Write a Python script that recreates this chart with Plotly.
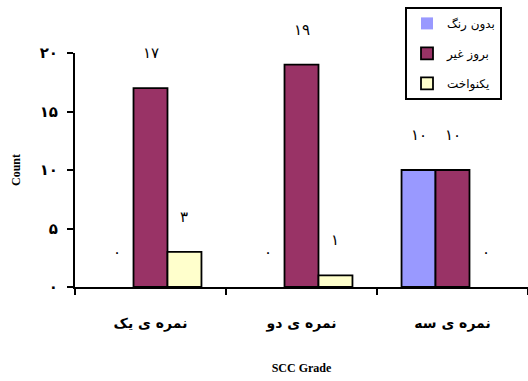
import plotly.graph_objects as go

# Grade categories and the three series
categories = ["نمره ی یک", "نمره ی دو", "نمره ی سه"]
series_names = ["بدون رنگ", "بروز غیر", "یکنواخت"]
values = [
    [0, 0, 10],    # بدون رنگ
    [17, 19, 10],  # بروز غیر
    [3, 1, 0],     # یکنواخت
]
colors = ["#9999FF", "#993366", "#FFFFCC"]

y_ticks = [0, 5, 10, 15, 20]

PERSIAN_DIGITS = str.maketrans("0123456789", "۰۱۲۳۴۵۶۷۸۹")


def fa(n):
    return str(n).translate(PERSIAN_DIGITS)


W, H = 528, 381
margin = dict(l=75, r=0, t=53, b=94)
bargap = 0.325

fig = go.Figure()
for i, (name, vals, col) in enumerate(zip(series_names, values, colors)):
    fig.add_trace(go.Bar(
        x=categories, y=vals, name=name, legendgroup=name,
        marker=dict(color=col,
                    line=dict(color="black", width=[1.8 if v else 0 for v in vals])),
    ))

# value labels above each bar
plot_w = W - margin["l"] - margin["r"]
bar_px = plot_w / len(categories) * (1 - bargap) / len(series_names)
annotations = []
for i, vals in enumerate(values):
    for c, v in zip(categories, vals):
        annotations.append(dict(
            x=c, y=v, xref="x", yref="y", text=fa(v), showarrow=False,
            xshift=(i - (len(series_names) - 1) / 2) * bar_px,
            yshift=35, yanchor="middle",
            font=dict(family="DejaVu Sans", size=15, color="black"),
        ))

fig.update_layout(
    width=W, height=H, margin=margin,
    paper_bgcolor="white", plot_bgcolor="white",
    barmode="group", bargap=bargap, bargroupgap=0,
    showlegend=True,
    legend=dict(
        x=(405 - margin["l"]) / plot_w, y=1.197, xanchor="left", yanchor="top",
        bordercolor="black", borderwidth=2, bgcolor="white",
        font=dict(family="DejaVu Sans", size=12, color="black"),
        tracegroupgap=11, entrywidth=82,
    ),
    annotations=annotations,
    xaxis=dict(
        showline=True, linecolor="black", linewidth=2,
        ticks="outside", tickson="boundaries", ticklen=6, tickcolor="black", tickwidth=2,
        ticklabelstandoff=22,
        tickfont=dict(family="DejaVu Sans", size=14, color="black", weight="bold"),
        title=dict(text="SCC Grade", standoff=33,
                   font=dict(family="Liberation Serif", size=12, color="black", weight="bold")),
        showgrid=False,
    ),
    yaxis=dict(
        range=[0, 20], tickvals=y_ticks, ticktext=[fa(t) for t in y_ticks],
        showline=True, linecolor="black", linewidth=2,
        ticks="outside", ticklen=6, tickcolor="black", tickwidth=2,
        ticklabelstandoff=6,
        tickfont=dict(family="DejaVu Sans", size=15, color="black", weight="bold"),
        title=dict(text="Count", standoff=16,
                   font=dict(family="Liberation Serif", size=12, color="black", weight="bold")),
        showgrid=False, zeroline=False,
    ),
)

fig.write_html("out.html")
